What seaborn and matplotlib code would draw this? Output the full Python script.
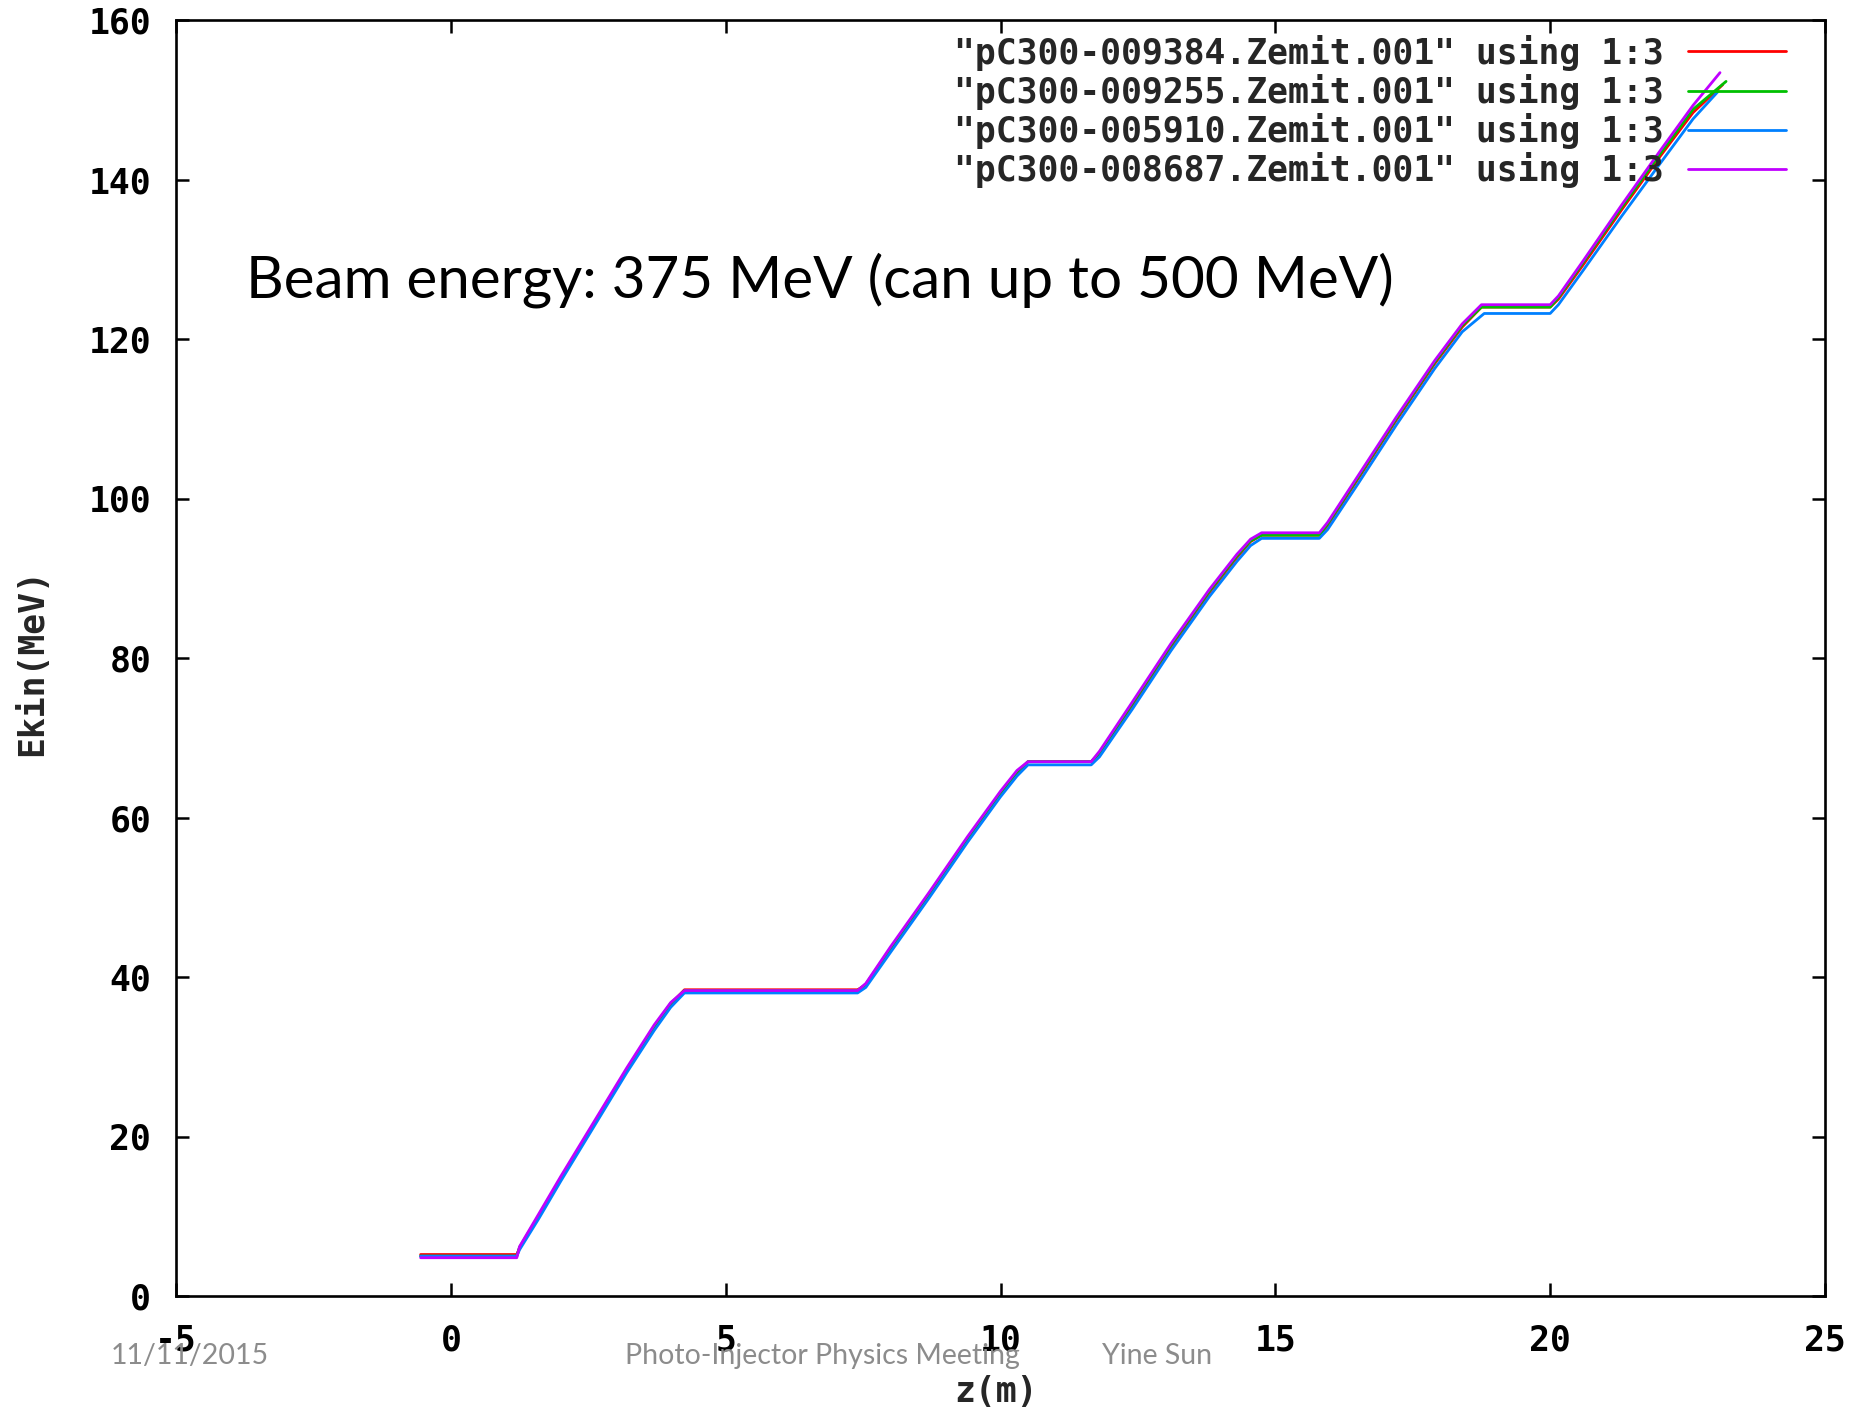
import matplotlib
matplotlib.use("Agg")
import matplotlib.pyplot as plt
import seaborn as sns
import pandas as pd
from matplotlib.lines import Line2D

# Kinetic energy along the beamline for four ASTRA runs (columns 1:3 of the Zemit files)
files = [
    '"pC300-009384.Zemit.001" using 1:3',
    '"pC300-009255.Zemit.001" using 1:3',
    '"pC300-005910.Zemit.001" using 1:3',
    '"pC300-008687.Zemit.001" using 1:3',
]
colors = ["#ff0000", "#00c000", "#0080ff", "#c000ff"]

z_009384 = [-0.55, 1.20, 1.25, 1.60, 2.00, 2.60, 3.20, 3.70, 4.00, 4.25, 7.40, 7.55, 8.00, 8.70,
            9.40, 10.00, 10.30, 10.50, 11.65, 11.80, 12.40, 13.10, 13.80, 14.30, 14.55, 14.75,
            15.80, 15.95, 16.50, 17.20, 17.90, 18.40, 18.75, 20.00, 20.15, 20.60, 21.30, 22.00,
            22.60, 23.14]
E_009384 = [5.2, 5.2, 6.0, 10.0, 14.7, 21.5, 28.3, 33.7, 36.6, 38.4, 38.4, 39.0, 43.5, 50.3,
            57.3, 63.0, 65.6, 67.0, 67.0, 68.0, 74.1, 81.4, 88.2, 92.6, 94.6, 95.4,
            95.4, 96.6, 102.4, 109.8, 116.9, 121.5, 124.0, 124.0, 125.0, 129.3, 136.2, 142.9,
            148.4, 151.9]

z_009255 = [-0.55, 1.20, 1.25, 1.60, 2.00, 2.60, 3.20, 3.70, 4.00, 4.25, 7.40, 7.55, 8.00, 8.70,
            9.40, 10.00, 10.30, 10.50, 11.65, 11.80, 12.40, 13.10, 13.80, 14.30, 14.55, 14.75,
            15.80, 15.95, 16.50, 17.20, 17.90, 18.40, 18.75, 20.00, 20.15, 20.60, 21.30, 22.00,
            22.60, 23.20]
E_009255 = [5.0, 5.0, 6.1, 10.1, 14.8, 21.6, 28.4, 33.8, 36.7, 38.3, 38.3, 39.1, 43.6, 50.4,
            57.4, 63.1, 65.7, 67.0, 67.0, 68.1, 74.3, 81.6, 88.4, 92.8, 94.7, 95.4,
            95.4, 96.8, 102.6, 110.0, 117.1, 121.7, 124.0, 124.0, 125.2, 129.6, 136.5, 143.2,
            148.8, 152.3]

z_005910 = [-0.55, 1.20, 1.25, 1.60, 2.00, 2.60, 3.20, 3.70, 4.00, 4.25, 7.40, 7.55, 8.00, 8.70,
            9.40, 10.00, 10.30, 10.50, 11.65, 11.80, 12.40, 13.10, 13.80, 14.30, 14.55, 14.75,
            15.80, 15.95, 16.50, 17.20, 17.90, 18.40, 18.80, 20.00, 20.15, 20.60, 21.30, 22.00,
            22.60, 23.05]
E_005910 = [5.0, 5.0, 5.8, 9.7, 14.4, 21.2, 28.0, 33.3, 36.2, 38.0, 38.0, 38.7, 43.1, 49.9,
            56.9, 62.6, 65.2, 66.6, 66.6, 67.6, 73.6, 80.9, 87.7, 92.1, 94.1, 95.0,
            95.0, 96.1, 101.8, 109.2, 116.3, 120.9, 123.2, 123.2, 124.3, 128.6, 135.4, 142.0,
            147.6, 151.0]

z_008687 = [-0.55, 1.20, 1.25, 1.60, 2.00, 2.60, 3.20, 3.70, 4.00, 4.25, 7.40, 7.55, 8.00, 8.70,
            9.40, 10.00, 10.30, 10.50, 11.65, 11.80, 12.40, 13.10, 13.80, 14.30, 14.55, 14.75,
            15.80, 15.95, 16.50, 17.20, 17.90, 18.40, 18.75, 20.00, 20.15, 20.60, 21.30, 22.00,
            22.60, 23.09]
E_008687 = [4.8, 4.8, 6.2, 10.3, 15.0, 21.8, 28.6, 34.0, 36.8, 38.3, 38.3, 39.2, 43.8, 50.6,
            57.6, 63.3, 65.9, 67.0, 67.0, 68.3, 74.5, 81.8, 88.6, 93.0, 94.9, 95.7,
            95.7, 97.0, 102.8, 110.2, 117.3, 121.9, 124.3, 124.3, 125.4, 129.8, 136.8, 143.6,
            149.3, 153.4]

x_ticks = [-5, 0, 5, 10, 15, 20, 25]
y_ticks = [0, 20, 40, 60, 80, 100, 120, 140, 160]

series = [(z_009384, E_009384), (z_009255, E_009255), (z_005910, E_005910), (z_008687, E_008687)]
frames = []
for name, (zs, es) in zip(files, series):
    frames.append(pd.DataFrame({"z": zs, "Ekin": es, "file": name}))
df = pd.concat(frames, ignore_index=True)

sns.set_style("ticks", {"xtick.direction": "in", "ytick.direction": "in"})
plt.rcParams["font.family"] = ["DejaVu Sans Mono"]
plt.rcParams["font.weight"] = "bold"

fig = plt.figure(figsize=(18.64, 14.09), dpi=100)
ax = fig.add_axes([176 / 1864, 1 - 1296 / 1409, 1649 / 1864, 1276 / 1409])

sns.lineplot(data=df, x="z", y="Ekin", hue="file", hue_order=files, palette=colors,
             sort=False, estimator=None, units="file", linewidth=2.0, ax=ax, legend=False)

ax.set_xlim(-5, 25)
ax.set_ylim(0, 160)
ax.set_xticks(x_ticks)
ax.set_yticks(y_ticks)
ax.set_xticklabels([str(t) for t in x_ticks])
ax.set_yticklabels([str(t) for t in y_ticks])
ax.tick_params(axis="both", which="both", top=True, right=True, length=9.5, width=1.8,
               color="black", labelsize=25, labelcolor="black")
ax.tick_params(axis="x", pad=20)
ax.tick_params(axis="y", pad=18)
for sp in ax.spines.values():
    sp.set_visible(True)
    sp.set_color("black")
    sp.set_linewidth(1.9)

ax.set_xlabel("z(m)", fontsize=25, fontweight="bold", va="center")
ax.set_ylabel("Ekin(MeV)", fontsize=25, fontweight="bold", va="center")
ax.xaxis.set_label_coords((996 - 176) / 1649, (1296 - 1392) / 1276)
ax.yaxis.set_label_coords((32 - 176) / 1649, (1296 - 662) / 1276)

handles = [Line2D([], [], color=c, linewidth=2.0) for c in colors]
ax.legend(handles, files, loc="upper right", bbox_to_anchor=(0.9764, 0.9886),
          frameon=False, markerfirst=False, handlelength=2.82, handletextpad=0.69,
          labelspacing=0.09, borderaxespad=0, borderpad=0,
          prop={"family": "DejaVu Sans Mono", "weight": "bold", "size": 25})

fig.text(246 / 1864, 1 - 297 / 1409, "Beam energy: 375 MeV (can up to 500 MeV)",
         family="Lato", fontsize=42, fontweight="normal", color="black", va="baseline", ha="left")

footer_y = 1 - 1356 / 1409
fig.text(111 / 1864, footer_y, "11/11/2015", family="Lato", fontsize=20.5,
         fontweight="normal", color="#8c8c8c", va="center", ha="left")
fig.text(625 / 1864, footer_y, "Photo-Injector Physics Meeting", family="Lato", fontsize=20.5,
         fontweight="normal", color="#8c8c8c", va="center", ha="left")
fig.text(1102 / 1864, footer_y, "Yine Sun", family="Lato", fontsize=20.5,
         fontweight="normal", color="#8c8c8c", va="center", ha="left")

fig.savefig("out.png", dpi=100, facecolor="white")
